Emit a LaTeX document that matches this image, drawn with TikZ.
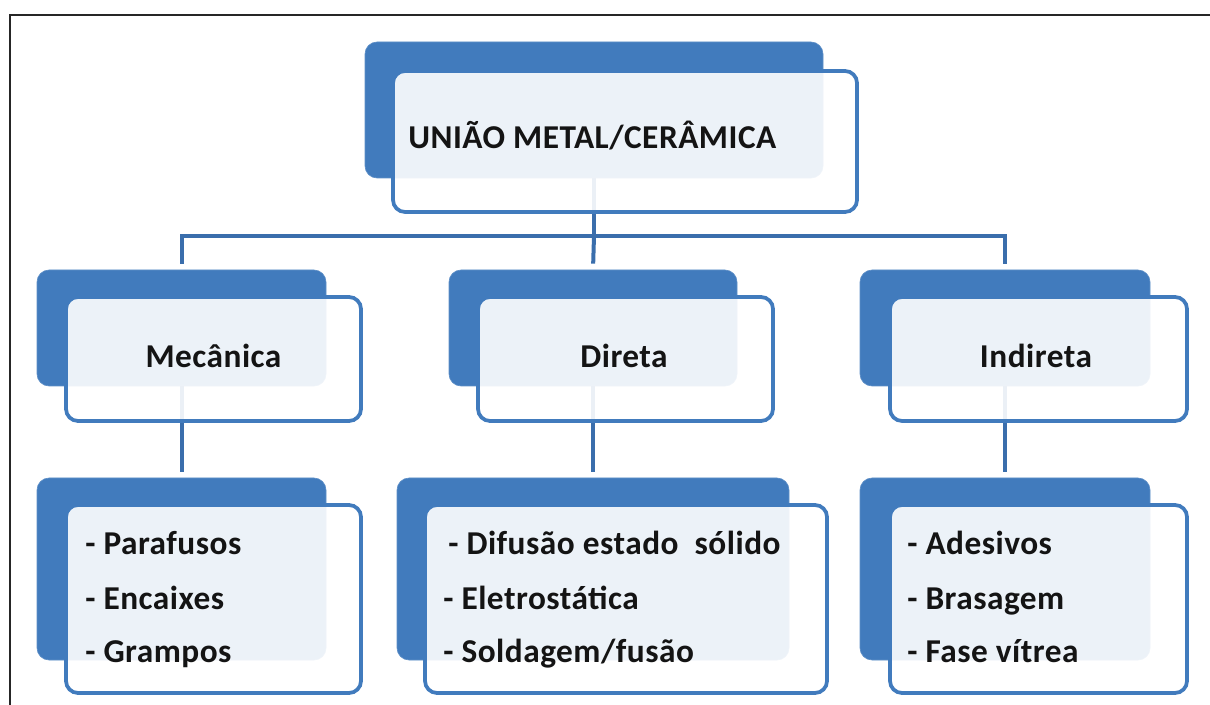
\documentclass[tikz,border=0pt]{standalone}
\usepackage{fontspec}
\setmainfont{Carlito}[LetterSpace=1.5]
\definecolor{bblue}{RGB}{65,123,189}
\definecolor{lblue}{RGB}{58,110,172}
\begin{document}
\begin{tikzpicture}[x=0.75pt,y=-0.75pt,
  sz/.style 2 args={minimum width=#1*0.75pt,minimum height=#2*0.75pt},
  backbox/.style={fill=bblue, draw=bblue!85!white, line width=0.5pt, rounded corners=9pt, inner sep=0pt},
  frontbox/.style={fill=white, fill opacity=0.9, draw=bblue, line width=2.8pt, rounded corners=9pt, inner sep=0pt},
  lbl/.style={font=\fontsize{25}{30}\selectfont\bfseries, inner sep=0pt, text=black!92},
  conn/.style={draw=lblue, line width=3pt},
  frame/.style={draw=black!85, line width=2pt}]
\useasboundingbox (0,0) rectangle (1210,705);
\draw[frame] (10,706) -- (10,15) -- (1211,15);
% connectors
\coordinate (hub) at (594,236);
% back boxes
\node[backbox, sz={458}{136}] (top-b) at (594,110) {};
\node[backbox, sz={289}{116}] (mec-b) at (181.5,328) {};
\node[backbox, sz={288}{116}] (dir-b) at (593,328) {};
\node[backbox, sz={290}{116}] (ind-b) at (1005,328) {};
\node[backbox, sz={289}{182}] (lm-b) at (181.5,569) {};
\node[backbox, sz={392}{182}] (ld-b) at (593,569) {};
\node[backbox, sz={290}{182}] (li-b) at (1005,569) {};
\draw[conn] (top-b.south) -- (hub);
\draw[conn, shorten >=4.5pt] (hub) -| (mec-b.north);
\draw[conn, shorten >=4.5pt] (hub) -| (ind-b.north);
\draw[conn, shorten >=4.5pt] (hub) -- (dir-b.north);
\draw[conn, shorten >=4.5pt] (mec-b.south) -- (lm-b.north);
\draw[conn, shorten >=4.5pt] (dir-b.south) -- (ld-b.north);
\draw[conn, shorten >=4.5pt] (ind-b.south) -- (li-b.north);
% front boxes
\node[frontbox, sz={464}{141}] (top-f) at (625,141.5) {};
\node[frontbox, sz={295}{124}] (mec-f) at (213.5,359) {};
\node[frontbox, sz={295}{124}] (dir-f) at (625.5,359) {};
\node[frontbox, sz={297}{124}] (ind-f) at (1038.5,359) {};
\node[frontbox, sz={295}{188}] (lm-f) at (213.5,599) {};
\node[frontbox, sz={402}{188}] (ld-f) at (626,599) {};
\node[frontbox, sz={297}{188}] (li-f) at (1038.5,599) {};
% labels
\node[lbl, anchor=base west] (top-t) at (408,149) {UNIÃO METAL/CERÂMICA};
\node[lbl, anchor=base] (mec-t) at (213.5,368) {Mecânica};
\node[lbl, anchor=base] (dir-t) at (624,368) {Direta};
\node[lbl, anchor=base] (ind-t) at (1036,368) {Indireta};
\node[lbl, anchor=base west] (lm1) at (85,555) {- Parafusos};
\node[lbl, anchor=base west] (lm2) at (85,609) {- Encaixes};
\node[lbl, anchor=base west] (lm3) at (85,662) {- Grampos};
\node[lbl, anchor=base west] (ld1) at (448,555) {- Difusão estado\ \ sólido};
\node[lbl, anchor=base west] (ld2) at (443,609) {- Eletrostática};
\node[lbl, anchor=base west] (ld3) at (443,662) {- Soldagem/fusão};
\node[lbl, anchor=base west] (li1) at (907,555) {- Adesivos};
\node[lbl, anchor=base west] (li2) at (907,609) {- Brasagem};
\node[lbl, anchor=base west] (li3) at (907,662) {- Fase vítrea};
\end{tikzpicture}
\end{document}
